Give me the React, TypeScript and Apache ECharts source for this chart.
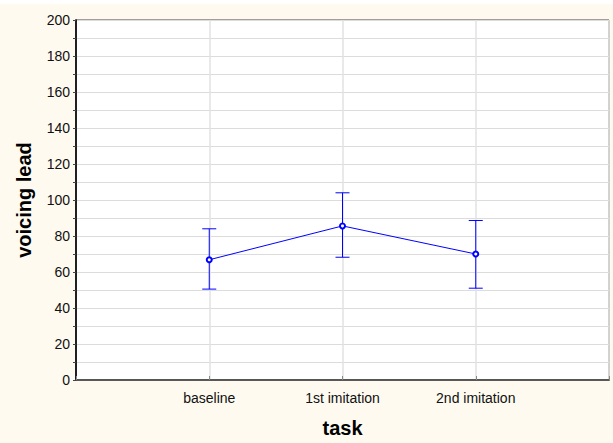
import React, { useEffect, useRef } from "react";
import * as echarts from "echarts";

const categories = ["baseline", "1st imitation", "2nd imitation"];
const means = [66.8, 85.6, 70.0];
const upper = [84.0, 104.0, 88.6];
const lower = [50.5, 68.2, 51.0];
const yTicks = [0, 20, 40, 60, 80, 100, 120, 140, 160, 180, 200];

const BLUE = "#0000ff";
const FONT = "'Liberation Sans', Arial, sans-serif";

export default function App() {
  const ref = useRef<HTMLDivElement>(null);
  useEffect(() => {
    if (!ref.current) return;
    const chart = echarts.init(ref.current, undefined, { renderer: "svg" });
    const pts = categories.map((_, i) => [i + 1, means[i]]);
    const errs = categories.map((_, i) => [i + 1, lower[i], upper[i]]);
    chart.setOption({
      animation: false,
      backgroundColor: "#fefaf0",
      graphic: [
        { type: "rect", shape: { x: 0, y: 0, width: 613, height: 4 }, style: { fill: "#ffffff" }, z: -1 },
      ],
      grid: {
        left: 76,
        right: 4,
        top: 20,
        bottom: 63,
        show: true,
        backgroundColor: "#ffffff",
        borderColor: "#444",
        borderWidth: 1,
      },
      xAxis: [
        {
          type: "value",
          min: 0,
          max: 4,
          interval: 1,
          name: "task",
          nameLocation: "middle",
          nameGap: 38,
          nameTextStyle: { fontFamily: FONT, fontSize: 20, fontWeight: "bold", color: "#000" },
          axisLine: { show: true, lineStyle: { color: "#000", width: 1.5 } },
          axisTick: { show: true, inside: true, length: 4, lineStyle: { color: "#888" } },
          axisLabel: {
            fontFamily: FONT,
            fontSize: 14,
            color: "#111",
            margin: 11,
            formatter: (v: number) => (v >= 1 && v <= 3 ? categories[v - 1] : ""),
          },
          splitLine: { show: true, lineStyle: { color: "#e2e2e2", width: 1.5 } },
        },
        {
          type: "value",
          position: "top",
          min: 0,
          max: 4,
          interval: 1,
          axisLine: { show: true, lineStyle: { color: "#666", width: 1.5 } },
          axisTick: { show: false },
          axisLabel: { show: false },
          splitLine: { show: false },
        },
      ],
      yAxis: [
        {
          type: "value",
          min: 0,
          max: 200,
          interval: 20,
          name: "voicing lead",
          nameLocation: "middle",
          nameGap: 42,
          nameTextStyle: { fontFamily: FONT, fontSize: 20, fontWeight: "bold", color: "#000" },
          axisLine: { show: true, lineStyle: { color: "#666", width: 1.5 } },
          axisTick: { show: false },
          minorTick: { show: true, splitNumber: 2, length: 3, lineStyle: { color: "#444" } },
          axisLabel: {
            fontFamily: FONT,
            fontSize: 14,
            color: "#111",
            margin: 6,
            formatter: (v: number) => (yTicks.includes(v) ? String(v) : ""),
          },
          splitLine: { show: true, lineStyle: { color: "#dcdcdc", width: 1.2 } },
          minorSplitLine: { show: true, lineStyle: { color: "#dcdcdc", width: 1.2 } },
        },
        {
          type: "value",
          position: "right",
          min: 0,
          max: 200,
          interval: 20,
          axisLine: { show: true, lineStyle: { color: "#000", width: 1.5 } },
          axisTick: { show: true, inside: true, length: 3, lineStyle: { color: "#444" } },
          axisLabel: { show: false },
          splitLine: { show: false },
        },
      ],
      series: [
        {
          type: "custom",
          xAxisIndex: 0,
          yAxisIndex: 0,
          data: errs,
          z: 3,
          renderItem: (params: any, api: any) => {
            const x = api.value(0);
            const lo = api.coord([x, api.value(1)]);
            const hi = api.coord([x, api.value(2)]);
            const hw = 7;
            const style = { stroke: BLUE, lineWidth: 1 };
            return {
              type: "group",
              children: [
                { type: "line", shape: { x1: lo[0], y1: lo[1], x2: hi[0], y2: hi[1] }, style },
                { type: "line", shape: { x1: lo[0] - hw, y1: lo[1], x2: lo[0] + hw, y2: lo[1] }, style },
                { type: "line", shape: { x1: hi[0] - hw, y1: hi[1], x2: hi[0] + hw, y2: hi[1] }, style },
              ],
            };
          },
        },
        {
          type: "line",
          xAxisIndex: 0,
          yAxisIndex: 0,
          data: pts,
          z: 4,
          symbol: "circle",
          symbolSize: 5,
          showSymbol: true,
          lineStyle: { color: BLUE, width: 1 },
          itemStyle: { color: "#ffffff", borderColor: BLUE, borderWidth: 2 },
        },
      ],
    });
    return () => chart.dispose();
  }, []);
  return (
    <div
      ref={ref}
      style={{ position: "absolute", left: 0, top: 0, width: 613, height: 443 }}
    />
  );
}
